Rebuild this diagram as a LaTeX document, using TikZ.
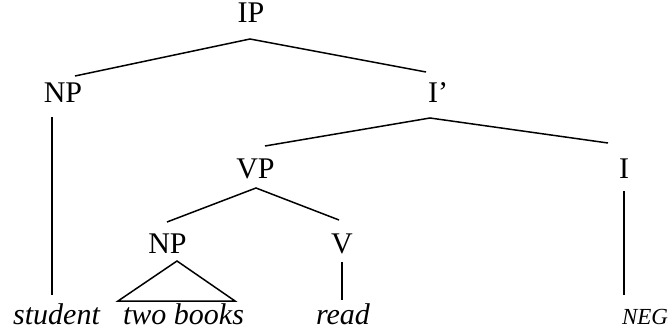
\documentclass[tikz,border=0pt]{standalone}
\usepackage{fontspec}
\setmainfont{Liberation Serif}
\usetikzlibrary{calc}
\tikzset{
  cat/.style={anchor=base, inner sep=0pt, font=\fontsize{30}{36}\selectfont},
  leaf/.style={anchor=base, inner sep=0pt, font=\fontsize{30}{36}\selectfont\itshape},
  smallleaf/.style={anchor=base, inner sep=0pt, font=\fontsize{23}{28}\selectfont\itshape},
  branch/.style={line width=1.5pt, line join=miter},
}
\begin{document}
\begin{tikzpicture}[x=1pt,y=1pt]
\useasboundingbox (0,0) rectangle (669,330);
% categories
\node[cat] (ip) at (251,307) {IP};
\node[cat] (np1) at (63,228) {NP};
\node[cat] (ib) at (438,227) {I’};
\node[cat] (vp) at (255.5,152) {VP};
\node[cat] (i) at (624,152) {I};
\node[cat] (np2) at (167.5,77) {NP};
\node[cat] (v) at (342,77) {V};
% leaves
\node[leaf] (student) at (56.5,6) {student};
\node[leaf] (twobooks) at (183.5,6) {two books};
\node[leaf] (read) at (343,6) {read};
\node[smallleaf] (neg) at (645,6) {NEG};
% branches
\draw[branch] ($(np1.base)+(12,26)$) -- ($(ip.base)+(-1,-16)$) -- ($(ib.base)+(-12,31)$);
\draw[branch] ($(np1.base)+(-11,-15)$) -- ($(student.base)+(-4.5,29)$);
\draw[branch] ($(vp.base)+(9.5,32)$) -- ($(ib.base)+(-8,-15)$) -- ($(i.base)+(-16,35)$);
\draw[branch] ($(np2.base)+(-0.5,31)$) -- ($(vp.base)+(0.5,-10)$) -- ($(v.base)+(-3,33)$);
\draw[branch] ($(i.base)+(0,-13)$) -- ($(neg.base)+(-21,29)$);
\draw[branch] ($(v.base)+(0,-9)$) -- ($(read.base)+(-1,24)$);
\draw[branch] ($(twobooks.base)+(-65.5,23)$) -- ($(np2.base)+(9.5,-8)$) -- ($(twobooks.base)+(51.5,23)$) -- cycle;
\end{tikzpicture}
\end{document}
